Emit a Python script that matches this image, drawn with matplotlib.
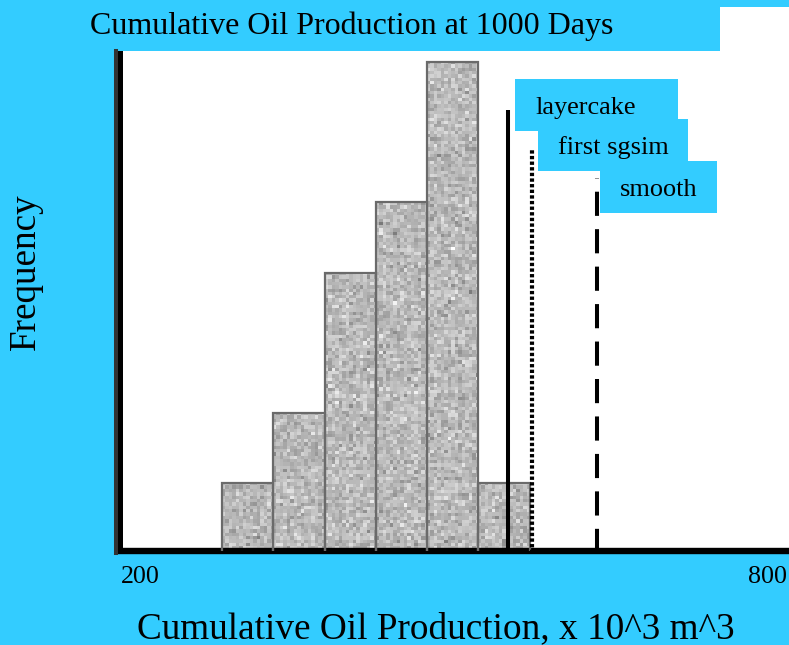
import numpy as np
import matplotlib.pyplot as plt
from matplotlib.patches import Rectangle
from matplotlib.lines import Line2D

# histogram of cumulative oil production at 1000 days (x 10^3 m^3)
bin_edges = [291.5, 337.5, 383.5, 429.5, 475.5, 521.5, 567.5]
counts = [1, 2, 4, 5, 7, 1]

# single-model reference cases
case_names = ["layercake", "first sgsim", "smooth"]
case_values = [548.0, 569.5, 627.5]
case_tops = [6.32, 5.76, 5.35]
case_styles = ["-", (0, (0.8, 0.55)), (0, (6, 3.3))]
case_widths = [2.9, 3.0, 2.9]

x_range = [200, 800]
title = "Cumulative Oil Production at 1000 Days"
xlabel = "Cumulative Oil Production, x 10^3 m^3"
ylabel = "Frequency"

BLUE = "#33ccff"
W, H = 789, 645

plt.rcParams["font.family"] = ["Liberation Serif", "DejaVu Serif"]


def fx(px):
    return px / W


def fy(py):
    return 1 - py / H


fig = plt.figure(figsize=(W / 100, H / 100), dpi=100, facecolor=BLUE)
ax = fig.add_axes([fx(120), fy(551), fx(669), 500 / H])
ax.set_facecolor("white")

# grainy grey bars
rng = np.random.default_rng(7)
widths = np.diff(bin_edges)
bars = ax.bar(bin_edges[:-1], counts, width=widths, align="edge",
              facecolor="none", edgecolor="#6a6a6a", linewidth=1.6, zorder=3)
for b in bars:
    x0, w, h = b.get_x(), b.get_width(), b.get_height()
    nx_, ny_ = max(int(w * 1.115 / 3.3), 1), max(int(h * 70.17 / 3.3), 1)
    grain = 0.73 + 0.07 * rng.standard_normal((ny_, nx_))
    im = ax.imshow(grain, extent=(x0, x0 + w, 0, h), cmap="gray",
                   vmin=0, vmax=1, aspect="auto", interpolation="nearest",
                   zorder=2)
    im.set_clip_path(b)
ax.set_xlim(*x_range)
ax.set_ylim(0.031, 7.157)

for val, top, ls, lw in zip(case_values, case_tops, case_styles, case_widths):
    ax.plot([val, val], [0, top], color="black", lw=lw, ls=ls,
            solid_capstyle="butt", dash_capstyle="butt", zorder=4)

ax.set_xticks([])
ax.set_yticks([])
for s in ["top", "right"]:
    ax.spines[s].set_visible(False)
ax.spines["left"].set_linewidth(3.6)
ax.spines["bottom"].set_linewidth(4.6)

fig.add_artist(Line2D([fx(116), fx(116)], [fy(51), fy(553)],
                      color="#333333", lw=2.9, transform=fig.transFigure))

# white strip above the plot and the title box
fig.add_artist(Rectangle((fx(120), fy(51)), fx(669), 44 / H,
                         transform=fig.transFigure, facecolor="white",
                         edgecolor="none", zorder=0))
fig.add_artist(Rectangle((fx(80), fy(51)), fx(640), 51 / H,
                         transform=fig.transFigure, facecolor=BLUE,
                         edgecolor="none", zorder=1))
fig.text(fx(90), fy(34), title, fontsize=23, va="baseline", ha="left")

# label boxes for the reference cases
fig.canvas.draw()
box_specs = [(7, 79, 163), (6, 119, 150), (3, 161, 117)]
for name, val, (dx, top, bw) in zip(case_names, case_values, box_specs):
    line_px = ax.transData.transform((val, 0))[0]
    left = line_px + dx
    fig.add_artist(Rectangle((fx(left), fy(top + 52)), fx(bw), 52 / H,
                             transform=fig.transFigure, facecolor=BLUE,
                             edgecolor="none", zorder=5))
    t = fig.text(fx(left + 20), fy(top + 35), name, fontsize=18.9,
                 va="baseline", ha="left")
    t.set_zorder(6)

fig.text(fx(121), fy(583), str(x_range[0]), fontsize=18.7,
         va="baseline", ha="left")
fig.text(fx(787), fy(583), str(x_range[1]), fontsize=18.7,
         va="baseline", ha="right")
fig.text(fx(137), fy(638), xlabel, fontsize=26.8, va="baseline", ha="left")
fig.text(fx(35), fy(350), ylabel, fontsize=26.7, va="baseline", ha="left",
         rotation=90, rotation_mode="anchor")

fig.savefig("out.png", dpi=100, facecolor=BLUE)
